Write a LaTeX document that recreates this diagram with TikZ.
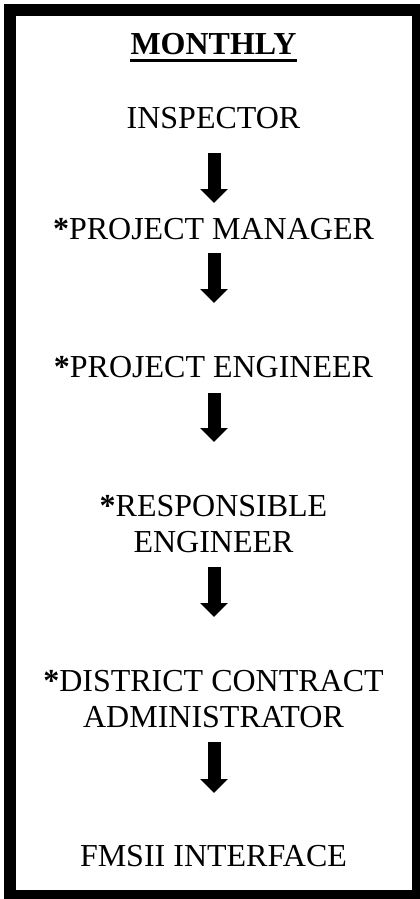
\documentclass[tikz,border=0pt]{standalone}
\usepackage{fontspec}
\setmainfont{Liberation Serif}
\usetikzlibrary{arrows.meta}
\tikzset{
  lbl/.style={inner sep=0pt, anchor=base, align=center, font=\fontsize{32}{36}\selectfont},
  bigarrow/.style={line width=13pt, line cap=butt, -{Triangle[width=27pt,length=14pt]}},
  frame/.style={line width=12pt}
}
\begin{document}
\begin{tikzpicture}[x=1pt,y=-1pt]
\useasboundingbox (0,0) rectangle (420,899);
\fill[white] (0,0) rectangle (420,899);
\draw[frame] (10,10) rectangle (418,896);
\node[lbl] (title) at (213.5,55) {\textbf{MONTHLY}};
\draw[line width=3pt] ([yshift=-5.5pt]title.base west) -- ([yshift=-5.5pt]title.base east);
\node[lbl] (insp) at (213.5,128) {INSPECTOR};
\node[lbl] (mgr) at (213.5,239) {\textbf{*}PROJECT MANAGER};
\node[lbl] (eng) at (213.5,377) {\textbf{*}PROJECT ENGINEER};
\node[lbl] (resp) at (213.5,552) {\textbf{*}RESPONSIBLE\\ENGINEER};
\node[lbl] (dca) at (213.5,727) {\textbf{*}DISTRICT CONTRACT\\ADMINISTRATOR};
\node[lbl] (fms) at (213.5,866) {FMSII INTERFACE};
\draw[bigarrow] ([xshift=0.5pt,yshift=-25pt]insp.base) -- ([xshift=0.5pt,yshift=36pt]mgr.base);
\draw[bigarrow] ([xshift=0.5pt,yshift=-14pt]mgr.base) -- ([xshift=0.5pt,yshift=74pt]eng.base);
\draw[bigarrow] ([xshift=0.5pt,yshift=-16pt]eng.base) -- ([xshift=0.5pt,yshift=110pt]resp.base);
\draw[bigarrow] ([xshift=0.5pt,yshift=-15pt]resp.base) -- ([xshift=0.5pt,yshift=110pt]dca.base);
\draw[bigarrow] ([xshift=0.5pt,yshift=-15pt]dca.base) -- ([xshift=0.5pt,yshift=73pt]fms.base);
\end{tikzpicture}
\end{document}
